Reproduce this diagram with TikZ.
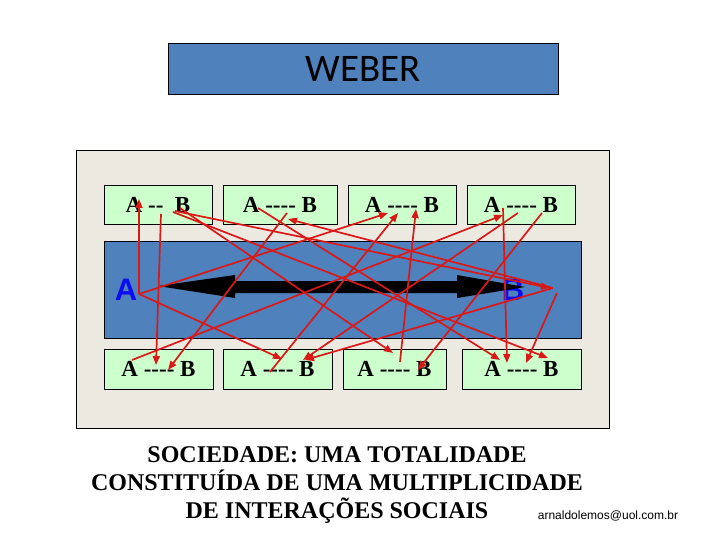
\documentclass[tikz,border=0pt]{standalone}
\usepackage{fontspec}
\newfontfamily\tnr{Liberation Serif}
\newfontfamily\arialf{Liberation Sans}
\newfontfamily\calib{Carlito}
\usetikzlibrary{arrows.meta}
\definecolor{panelbg}{RGB}{236,233,224}
\definecolor{boxgreen}{RGB}{204,255,204}
\definecolor{bandblue}{RGB}{79,129,189}
\definecolor{redline}{RGB}{218,24,24}
\definecolor{letterblue}{RGB}{12,12,240}
\begin{document}
\begin{tikzpicture}[x=1pt,y=-1pt,
  abox/.style={draw=black, line width=0.8pt, fill=boxgreen, minimum height=39pt, inner sep=0pt,
    font=\tnr\bfseries\fontsize{23}{23}\selectfont},
  rel/.style={draw=redline, line width=1.7pt, -{Triangle[length=9pt,width=7pt]}},
  bigletter/.style={font=\arialf\bfseries\fontsize{31}{31}\selectfont, text=letterblue, inner sep=0pt},
  captxt/.style={font=\tnr\bfseries\fontsize{24}{24}\selectfont, anchor=base, inner sep=0pt},
]
\useasboundingbox (0,0) rectangle (720,540);
\fill[white] (0,0) rectangle (720,540);

% title
\node[draw=black, line width=0.8pt, fill=bandblue, minimum width=390pt, minimum height=51pt, inner sep=0pt,
  font=\calib\fontsize{39}{39}\selectfont] (title) at (363,68.5) {WEBER};

% panel and band
\node[draw=black, line width=0.8pt, fill=panelbg, minimum width=533pt, minimum height=278pt] (panel) at (342.5,289) {};
\node[draw=black, line width=0.8pt, fill=bandblue, minimum width=477pt, minimum height=97pt] (band) at (342.5,289.5) {};

% top boxes
\node[abox, minimum width=108pt] (t1) at (158,204.5) {A -{}- \ B};
\node[abox, minimum width=114pt] (t2) at (280,204.5) {A -{}-{}-{}- B};
\node[abox, minimum width=108pt] (t3) at (402,204.5) {A -{}-{}-{}- B};
\node[abox, minimum width=108pt] (t4) at (521,204.5) {A -{}-{}-{}- B};
% bottom boxes
\node[abox, minimum width=109pt, minimum height=40pt] (b1) at (158.5,369) {A -{}-{}-{}- B};
\node[abox, minimum width=109pt, minimum height=40pt] (b2) at (277.5,369) {A -{}-{}-{}- B};
\node[abox, minimum width=103pt, minimum height=40pt] (b3) at (394.5,369) {A -{}-{}-{}- B};
\node[abox, minimum width=119pt, minimum height=40pt] (b4) at (521.5,369) {A -{}-{}-{}- B};

% big letters and double arrow
\node[bigletter] (la) at (126,290) {A};
\node[bigletter] (lb) at (513,290) {B};
\fill[black] (158,286) -- (235,275) -- (235,281) -- (457,281) -- (457,275) -- (525,287)
  -- (457,298) -- (457,293) -- (235,293) -- (235,298) -- cycle;

% caption
\node[captxt] (cap1) at (337,462) {SOCIEDADE: UMA TOTALIDADE};
\node[captxt] (cap2) at (337,490) {CONSTITUÍDA DE UMA MULTIPLICIDADE};
\node[captxt] (cap3) at (337,518) {DE INTERAÇÕES SOCIAIS};
\node[font=\arialf\fontsize{12}{12}\selectfont, anchor=base, inner sep=0pt] (email) at (608,519) {arnaldolemos@uol.com.br};

% red arrow end points
\coordinate (Av) at (139,294);
\coordinate (Bv) at (553,288);
\coordinate (Bw) at (557,293);
\coordinate (p1) at (139,199);
\coordinate (s2) at (161,214);  \coordinate (p2) at (156,365);
\coordinate (p3) at (388,213);
\coordinate (p4) at (282,359);
\coordinate (s5) at (132,360);  \coordinate (p5) at (503,215);
\coordinate (s6) at (287,213);  \coordinate (p6) at (168,370);
\coordinate (s7) at (180,208);  \coordinate (p7) at (393,353);
\coordinate (s8) at (173,212);  \coordinate (p8) at (548,358);
\coordinate (s9) at (258,208);  \coordinate (p9) at (500,360);
\coordinate (s10) at (270,372); \coordinate (p10) at (398,213);
\coordinate (s11) at (400,362); \coordinate (p11) at (416,209);
\coordinate (s12) at (503,208); \coordinate (p12) at (507,363);
\coordinate (s13) at (542,213); \coordinate (p13) at (418,370);
\coordinate (s14) at (518,213); \coordinate (p14) at (303,360);
\coordinate (p15) at (288,219);
\coordinate (p16) at (305,360);
\coordinate (p17) at (526,363);
\coordinate (s18) at (175,211); \coordinate (p18) at (550,288);

% red arrows
\draw[rel] (Av) -- (p1);
\draw[rel] (s2) -- (p2);
\draw[rel] (Av) -- (p3);
\draw[rel] (Av) -- (p4);
\draw[rel] (s5) -- (p5);
\draw[rel] (s6) -- (p6);
\draw[rel] (s7) -- (p7);
\draw[rel] (s8) -- (p8);
\draw[rel] (s9) -- (p9);
\draw[rel] (s10) -- (p10);
\draw[rel] (s11) -- (p11);
\draw[rel] (s12) -- (p12);
\draw[rel] (s13) -- (p13);
\draw[rel] (s14) -- (p14);
\draw[rel] (Bv) -- (p15);
\draw[rel] (Bv) -- (p16);
\draw[rel] (Bw) -- (p17);
\draw[rel] (s18) -- (p18);
\end{tikzpicture}
\end{document}
